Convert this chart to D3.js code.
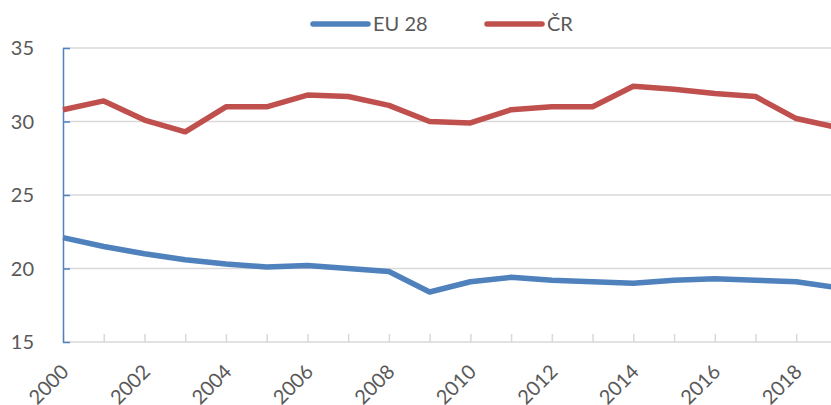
<!DOCTYPE html>
<html>
<head>
<meta charset="utf-8">
<script src="https://cdn.jsdelivr.net/npm/d3@7"></script>
<style>
  html, body { margin: 0; padding: 0; background: #fff; }
  svg { display: block; font-family: Lato, "Open Sans", sans-serif; }
</style>
</head>
<body>
<div id="chart"></div>
<script>
// years on the category axis
const years = d3.range(2000, 2020);
// tick labels shown under the axis
const yearLabels = [2000, 2002, 2004, 2006, 2008, 2010, 2012, 2014, 2016, 2018];
// series values
const eu28 = [22.1, 21.5, 21.0, 20.6, 20.3, 20.1, 20.2, 20.0, 19.8, 18.4,
              19.1, 19.4, 19.2, 19.1, 19.0, 19.2, 19.3, 19.2, 19.1, 18.7];
const cr = [30.8, 31.4, 30.1, 29.3, 31.0, 31.0, 31.8, 31.7, 31.1, 30.0,
            29.9, 30.8, 31.0, 31.0, 32.4, 32.2, 31.9, 31.7, 30.2, 29.6];
const yTicks = [15, 20, 25, 30, 35];

const seriesNames = ["EU 28", "ČR"];
const seriesColors = ["#4F81BD", "#C0504D"];

const width = 831, height = 405;
const margin = { top: 48, left: 63, bottom: 63 };
// the plot runs past the right edge of the picture (2019 is cut off)
const plotRight = 837;

const svg = d3.select("#chart")
  .append("svg")
  .attr("width", width)
  .attr("height", height);

const x = d3.scaleLinear()
  .domain([2000, 2019])
  .range([margin.left, plotRight]);

const y = d3.scaleLinear()
  .domain([15, 35])
  .range([height - margin.bottom, margin.top]);

// horizontal gridlines
svg.append("g")
  .selectAll("line")
  .data(yTicks.filter(d => d > 15))
  .enter()
  .append("line")
  .attr("x1", margin.left)
  .attr("x2", width)
  .attr("y1", d => y(d))
  .attr("y2", d => y(d))
  .attr("stroke", "#d9d9d9")
  .attr("stroke-width", 1.5);

// bottom axis: grey line with small ticks pointing up
const xAxis = svg.append("g")
  .attr("transform", "translate(0," + y(15) + ")")
  .call(d3.axisBottom(x).tickValues(years).tickSize(-8).tickFormat(""));
xAxis.select(".domain").remove();
xAxis.selectAll(".tick line").attr("stroke", "#d9d9d9").attr("stroke-width", 1.5);
xAxis.append("line")
  .attr("x1", margin.left).attr("x2", width)
  .attr("stroke", "#d9d9d9").attr("stroke-width", 1.5);

// year labels, rotated
svg.append("g")
  .selectAll("text")
  .data(yearLabels)
  .enter()
  .append("text")
  .attr("transform", d => "translate(" + (x(d) + 7) + "," + (y(15) + 31) + ") rotate(-45)")
  .attr("text-anchor", "end")
  .attr("font-size", "20px")
  .attr("fill", "#595959")
  .text(d => d);

// left axis: blue line with ticks pointing right
const yAxis = svg.append("g")
  .attr("transform", "translate(" + margin.left + ",0)")
  .call(d3.axisRight(y).tickValues(yTicks).tickSize(7).tickSizeOuter(0).tickFormat(""));
yAxis.select(".domain").attr("stroke", "#4F81BD").attr("stroke-width", 1.5);
yAxis.selectAll(".tick line").attr("stroke", "#4F81BD").attr("stroke-width", 1.5);

svg.append("g")
  .selectAll("text")
  .data(yTicks)
  .enter()
  .append("text")
  .attr("x", 34)
  .attr("y", d => y(d))
  .attr("dy", "0.35em")
  .attr("text-anchor", "end")
  .attr("font-size", "20px")
  .attr("fill", "#595959")
  .text(d => d);

// the two lines
const line = d3.line()
  .x((d, i) => x(years[i]))
  .y(d => y(d));

[eu28, cr].forEach((values, i) => {
  svg.append("path")
    .datum(values)
    .attr("fill", "none")
    .attr("stroke", seriesColors[i])
    .attr("stroke-width", 5.5)
    .attr("stroke-linejoin", "round")
    .attr("d", line);
});

// legend
const legendX = [313, 487];
const legend = svg.append("g")
  .selectAll("g")
  .data(seriesNames)
  .enter()
  .append("g")
  .attr("transform", (d, i) => "translate(" + legendX[i] + ",24)");

legend.append("line")
  .attr("x1", 0).attr("x2", 55)
  .attr("stroke", (d, i) => seriesColors[i])
  .attr("stroke-width", 5.5)
  .attr("stroke-linecap", "round");

legend.append("text")
  .attr("x", 60)
  .attr("dy", "0.35em")
  .attr("font-size", "20px")
  .attr("fill", "#595959")
  .text(d => d);
</script>
</body>
</html>
